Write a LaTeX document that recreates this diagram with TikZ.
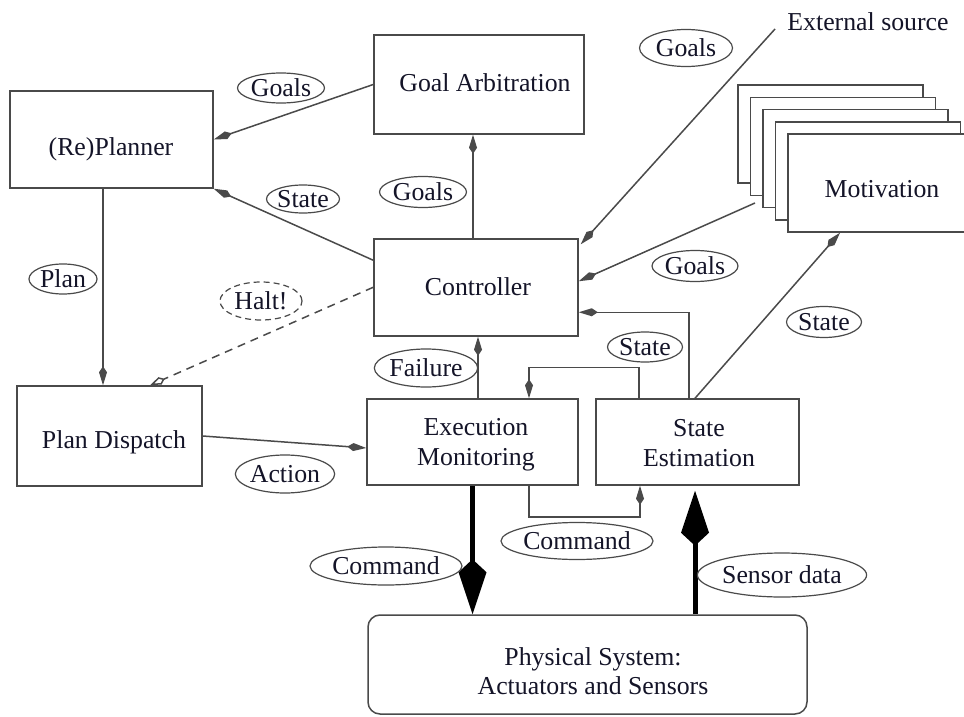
\documentclass[tikz,border=0pt]{standalone}
\usepackage{fontspec}
\setmainfont{Liberation Serif}
\usetikzlibrary{arrows.meta,shapes.geometric}
\definecolor{linegray}{HTML}{4A4A4A}
\definecolor{inkcol}{HTML}{141428}
\begin{document}
\begin{tikzpicture}[x=1pt,y=-1pt,
  font=\fontsize{25.8}{30}\selectfont,
  box/.style={draw=linegray, line width=1.5pt, rectangle, inner sep=0pt, fill=white},
  lbl/.style={draw=linegray, line width=1.2pt, ellipse, inner sep=0pt, text=inkcol},
  txt/.style={inner sep=0pt, align=center, text=inkcol},
  conn/.style={draw=linegray, line width=1.5pt},
  sarrow/.style={conn, -{Kite[length=19pt,width=8pt,inset=6pt]}},
  halt/.style={conn, dashed, dash pattern=on 8pt off 6pt, -{Kite[open,length=16pt,width=8pt,inset=5pt]}},
  big/.style={draw=black, line width=5pt, -{Kite[length=55pt,width=28pt,inset=13pt]}},
]
\useasboundingbox[fill=white] (0,0) rectangle (964,717);

% boxes
\node[box, minimum width=203pt, minimum height=97pt] (planner) at (111.5,139.5) {};
\node[box, minimum width=210pt, minimum height=99pt] (ga) at (479,84.5) {};
\node[box, minimum width=204pt, minimum height=97pt] (ctrl) at (476,287.5) {};
\node[box, minimum width=185pt, minimum height=100pt] (pd) at (109.5,436) {};
\node[box, minimum width=211pt, minimum height=86pt] (em) at (472.5,442) {};
\node[box, minimum width=203pt, minimum height=86pt] (se) at (697.5,442) {};
\node[box, rounded corners=12pt, minimum width=439pt, minimum height=99pt] (phys) at (587.5,664.5) {};

% motivation stack
\node[box, minimum width=185pt, minimum height=98pt] (mot1) at (830.5,134) {};
\node[box, minimum width=185pt, minimum height=98pt] (mot2) at (843,146.25) {};
\node[box, minimum width=185pt, minimum height=98pt] (mot3) at (855.5,158.5) {};
\node[box, minimum width=185pt, minimum height=98pt] (mot4) at (868,170.75) {};
\node[box, minimum width=185pt, minimum height=98pt] (mot) at (880.5,183) {};

% box texts
\node[txt, anchor=base] (planner-t) at (111,155.5) {(Re)Planner};
\node[txt, anchor=base] (ga-t) at (485,91.5) {Goal Arbitration};
\node[txt, anchor=base] (ctrl-t) at (478,295.5) {Controller};
\node[txt, anchor=base] (mot-t) at (882,197.5) {Motivation};
\node[txt, anchor=base] (pd-t) at (114,448.5) {Plan Dispatch};
\node[txt] (em-t) at (476,445) {Execution\\Monitoring};
\node[txt] (se-t) at (699,443) {State\\Estimation};
\node[txt, font=\fontsize{25.8}{29}\selectfont] (phys-t) at (593,671) {Physical System:\\Actuators and Sensors};
\node[txt, anchor=base] (ext) at (868,30.5) {External source};

% free ends
\coordinate (extsrc) at (775,29);
\coordinate (motsrc) at (755,203);

% connectors
\draw[sarrow] (ga.west) -- (planner.east);
\draw[sarrow] ([yshift=-22pt]ctrl.north west) -- (planner.south east);
\draw[sarrow] ([xshift=-3pt]ctrl.north) -- ([xshift=-6pt]ga.south);
\draw[sarrow] ([xshift=-8.5pt]planner.south) -- ([xshift=-6.5pt]pd.north);
\draw[halt] ([yshift=-49pt]ctrl.north west) -- ([xshift=40.5pt]pd.north);
\draw[sarrow] (pd.east) -- ([yshift=-6pt]em.west);
\draw[sarrow] ([xshift=5.5pt]em.north) -- ([xshift=5.5pt]em.north |- ctrl.south);
\draw[sarrow] ([xshift=-8.5pt]se.north) |- ([yshift=-74pt]ctrl.north east);
\draw[sarrow] ([xshift=-58.5pt]se.north) -- ++(0,-31) -| ([xshift=56.5pt]em.north);
\draw[sarrow] ([xshift=56.5pt]em.south) -- ++(0,31) -| ([xshift=-57.5pt]se.south);
\draw[big] (em.south) -- (em.south |- phys.north);
\draw[big] ([xshift=-2.5pt]se.south |- phys.north) -- ([xshift=-2.5pt,yshift=-5pt]se.south);
\draw[sarrow] (extsrc) -- ([xshift=2pt,yshift=-6pt]ctrl.north east);
\draw[sarrow] (motsrc) -- ([yshift=-43pt]ctrl.north east);
\draw[sarrow] ([xshift=-2.5pt]se.north) -- ([xshift=-40.5pt]mot.south);

% labels
\node[lbl, minimum width=87pt, minimum height=30pt] (l-goals1) at (281,88) {Goals};
\node[lbl, minimum width=73pt, minimum height=28pt] (l-state1) at (303,199) {State};
\node[lbl, minimum width=87pt, minimum height=31pt] (l-goals2) at (423,192) {Goals};
\node[lbl, minimum width=93pt, minimum height=37pt] (l-goals3) at (686,48) {Goals};
\node[lbl, minimum width=86pt, minimum height=31pt] (l-goals4) at (695,266) {Goals};
\node[lbl, minimum width=75pt, minimum height=31pt] (l-state2) at (824,322) {State};
\node[lbl, minimum width=68pt, minimum height=30pt] (l-plan) at (63,279) {Plan};
\node[lbl, dashed, dash pattern=on 6pt off 4pt, minimum width=82pt, minimum height=38pt] (l-halt) at (261,301) {Halt!};
\node[lbl, minimum width=80pt, minimum height=38pt] (l-action) at (285,474) {Action};
\node[lbl, minimum width=93pt, minimum height=38pt] (l-failure) at (426,368) {Failure};
\node[lbl, minimum width=75pt, minimum height=30pt] (l-state3) at (645,347) {State};
\node[lbl, minimum width=123pt, minimum height=38pt] (l-cmd1) at (386,566) {Command};
\node[lbl, minimum width=122pt, minimum height=37pt] (l-cmd2) at (577,541) {Command};
\node[lbl, minimum width=150pt, minimum height=44pt] (l-sensor) at (782,575) {Sensor data};
\end{tikzpicture}
\end{document}
